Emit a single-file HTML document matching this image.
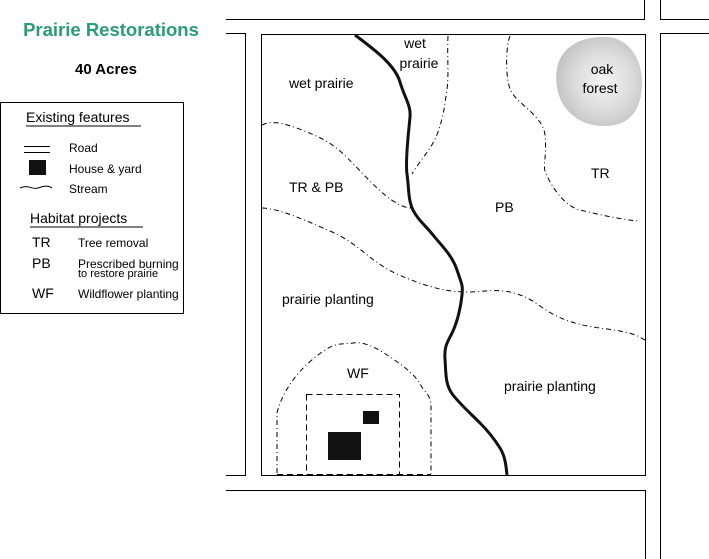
<!DOCTYPE html>
<html><head><style>
body{margin:0;background:#fff;width:709px;height:559px;overflow:hidden}
svg{display:block}
text{font-family:"Liberation Sans",sans-serif}
</style></head><body>
<svg width="709" height="559" viewBox="0 0 709 559">
<defs>
<radialGradient id="g" cx="0.55" cy="0.5" r="0.55">
<stop offset="0" stop-color="#f4f4f4"/><stop offset="0.6" stop-color="#dcdcdc"/><stop offset="1" stop-color="#c4c4c4"/>
</radialGradient>
</defs>
<text x="111" y="36" text-anchor="middle" font-size="18.5" font-weight="bold" fill="#2a9d75">Prairie Restorations</text>
<text x="106" y="74" text-anchor="middle" font-size="15" font-weight="bold">40 Acres</text>
<g stroke="#000" stroke-width="1" fill="none">
<rect x="0.5" y="102.5" width="183" height="211"/>
<path d="M226 19.5H644.5V0M660.5 0V19.5H709M709 33.5H660.5V559M226 33.5H245.5V475.5H226M226 490.5H645.5V559"/>
<rect x="261.5" y="34.5" width="384" height="441"/>
<path d="M24 146.5H50M24 152.5H50"/>
<path d="M20 188c8-4 12 2 18 0s10-3 14 0" />
</g>
<rect x="29" y="160" width="17" height="15" fill="#111"/>
<g font-size="12">
<text x="26" y="122" font-size="14">Existing features</text>
<line x1="26" y1="126" x2="141" y2="126" stroke="#000"/>
<text x="69" y="152">Road</text>
<text x="69" y="173">House &amp; yard</text>
<text x="69" y="193">Stream</text>
<text x="30" y="223" font-size="14">Habitat projects</text>
<line x1="30" y1="227" x2="143" y2="227" stroke="#000"/>
<text x="32" y="247" font-size="14">TR</text>
<text x="78" y="247">Tree removal</text>
<text x="32" y="268" font-size="14">PB</text>
<text x="78" y="268">Prescribed burning</text>
<text x="78" y="277" font-size="11">to restore prairie</text>
<text x="32" y="298" font-size="14">WF</text>
<text x="78" y="298">Wildflower planting</text>
</g>
<path d="M557 68c5-25 30-32 50-31s35 20 35 45s-10 45-40 44s-50-25-45-58z" fill="url(#g)"/>
<g stroke="#000" fill="none" stroke-width="1" stroke-dasharray="5,3,1,3">
<path d="M262 125C270 121 280 121 307 132S340 150 363 174S400 208 412 208"/>
<path d="M262 208C280 209 300 218 330 231S370 262 397 274S445 292 467 292S510 284 540 306S600 327 620 331S640 338 645 340"/>
<path d="M510 36C506 45 505 75 510 89S543 115 545 135S543 165 545 171S560 205 580 210S625 220 638 221"/>
<path d="M448 36C447 55 449 75 447 89S444 115 438 132S420 160 412 174"/>
<path d="M277 473V413C280 400 290 378 313 359S340 345 353 343S380 350 393 359S415 375 420 384S431 395 431 406V474"/>
</g>
<g stroke="#000" fill="none" stroke-dasharray="6,4">
<rect x="306.5" y="394.5" width="93" height="80"/>
<line x1="277" y1="474.5" x2="431" y2="474.5"/>
</g>
<path d="M355 35C375 50 395 65 400 82S411 105 410 117S405 160 407 174S408 200 413 210S425 225 433 235S452 255 457 270S463 285 462 295S458 320 453 331S444 345 445 359S445 385 453 395S470 413 480 423S495 440 500 448S506 465 507 475" stroke="#111" stroke-width="3" fill="none"/>
<rect x="328" y="432" width="33" height="28" fill="#111"/>
<rect x="363" y="411" width="16" height="13" fill="#111"/>
<g font-size="14">
<text x="289" y="88">wet prairie</text>
<text x="415" y="48" text-anchor="middle">wet</text>
<text x="419" y="68" text-anchor="middle">prairie</text>
<text x="602" y="74" text-anchor="middle">oak</text>
<text x="600" y="93" text-anchor="middle">forest</text>
<text x="591" y="178">TR</text>
<text x="289" y="192">TR &amp; PB</text>
<text x="495" y="212">PB</text>
<text x="282" y="304">prairie planting</text>
<text x="347" y="378">WF</text>
<text x="504" y="391">prairie planting</text>
</g>
</svg>
</body></html>
